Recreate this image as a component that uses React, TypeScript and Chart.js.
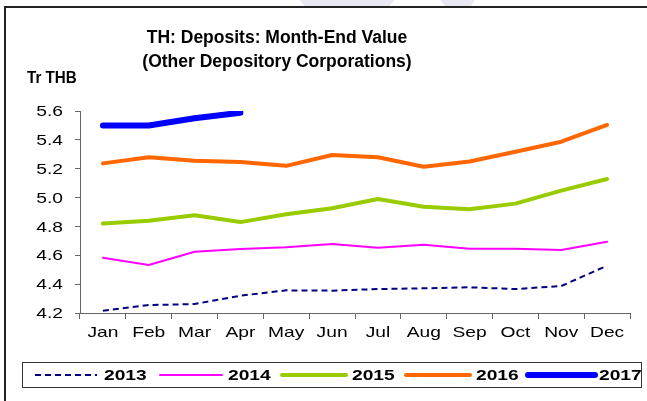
import React, { useEffect, useRef } from "react";
import { Chart, registerables } from "chart.js";

Chart.register(...registerables);

const months = ["Jan", "Feb", "Mar", "Apr", "May", "Jun", "Jul", "Aug", "Sep", "Oct", "Nov", "Dec"];
const s2013 = [4.216, 4.255, 4.262, 4.32, 4.357, 4.355, 4.366, 4.371, 4.378, 4.366, 4.387, 4.528];
const s2014 = [4.583, 4.533, 4.625, 4.643, 4.655, 4.678, 4.653, 4.673, 4.646, 4.646, 4.637, 4.694];
const s2015 = [4.82, 4.84, 4.877, 4.83, 4.884, 4.926, 4.99, 4.937, 4.919, 4.958, 5.048, 5.129];
const s2016 = [5.237, 5.28, 5.256, 5.246, 5.22, 5.295, 5.28, 5.214, 5.25, 5.318, 5.387, 5.503];
const s2017 = [5.5, 5.5, 5.55, 5.588];
const yearLabels = ["2013", "2014", "2015", "2016", "2017"];
const titleLines = ["TH: Deposits: Month-End Value", "(Other Depository Corporations)"];
const unitLabel = "Tr THB";

const FONT = "'Liberation Sans', Arial, sans-serif";
const STRETCH = 1.28;

const styles = [
  { color: "#000080", width: 2, dash: [6, 4] },
  { color: "#ff00ff", width: 2, dash: [] },
  { color: "#99cc00", width: 4, dash: [] },
  { color: "#ff6600", width: 4, dash: [] },
  { color: "#0000ff", width: 6, dash: [] },
];

function stretchedText(ctx: CanvasRenderingContext2D, text: string, x: number, y: number, align: "left" | "right" | "center", sx: number = STRETCH) {
  ctx.save();
  ctx.translate(x, y);
  ctx.scale(sx, 1);
  ctx.textAlign = align;
  ctx.textBaseline = "middle";
  ctx.fillText(text, 0, 0);
  ctx.restore();
}

const decorPlugin = {
  id: "decor",
  beforeDraw(chart: any) {
    const ctx = chart.ctx;
    ctx.save();
    ctx.fillStyle = "#ffffff";
    ctx.fillRect(0, 0, chart.width, chart.height);
    ctx.fillStyle = "#e8e8f3";
    ctx.beginPath();
    ctx.moveTo(300, 0);
    ctx.lineTo(395, 0);
    ctx.lineTo(388, 7);
    ctx.lineTo(305, 7);
    ctx.closePath();
    ctx.fill();
    ctx.beginPath();
    ctx.moveTo(440, 0);
    ctx.lineTo(475, 0);
    ctx.lineTo(470, 7);
    ctx.lineTo(446, 7);
    ctx.closePath();
    ctx.fill();
    ctx.strokeStyle = "#222222";
    ctx.lineWidth = 2;
    ctx.beginPath();
    ctx.moveTo(5, 401);
    ctx.lineTo(5, 7);
    ctx.lineTo(647, 7);
    ctx.stroke();
    ctx.restore();
  },
  afterDraw(chart: any) {
    const ctx = chart.ctx;
    ctx.save();
    ctx.fillStyle = "#000000";
    ctx.textAlign = "center";
    ctx.textBaseline = "middle";
    ctx.font = `bold 17.5px ${FONT}`;
    ctx.fillText(titleLines[0], 277, 38);
    ctx.fillText(titleLines[1], 277, 62);
    ctx.font = `bold 16.5px ${FONT}`;
    stretchedText(ctx, unitLabel, 27, 78, "left", 0.92);

    // axis tick labels, positioned by the chart's scales
    ctx.font = `15px ${FONT}`;
    ctx.fillStyle = "#000000";
    const ys = chart.scales.y;
    ys.ticks.forEach((t: any) => {
      const py = ys.getPixelForValue(t.value);
      stretchedText(ctx, Number(t.value).toFixed(1), 63, py + 1, "right");
    });
    const xs = chart.scales.x;
    xs.ticks.forEach((t: any, i: number) => {
      const px = xs.getPixelForTick(i);
      stretchedText(ctx, String(chart.data.labels[t.value ?? i]), px, xs.top + 20, "center");
    });

    // legend
    ctx.strokeStyle = "#333333";
    ctx.lineWidth = 1;
    ctx.strokeRect(22.5, 362.5, 619, 25);
    const lineStarts = [35, 160, 282, 406, 528];
    const lineEnds = [97, 222, 346, 470, 595];
    const textX = [104, 228, 352, 476, 599];
    const yMid = 375;
    yearLabels.forEach((lab, i) => {
      const st = styles[i];
      ctx.strokeStyle = st.color;
      ctx.lineWidth = st.width;
      ctx.lineCap = st.dash.length ? "butt" : "round";
      ctx.setLineDash(st.dash);
      ctx.beginPath();
      ctx.moveTo(lineStarts[i], yMid);
      ctx.lineTo(lineEnds[i], yMid);
      ctx.stroke();
      ctx.setLineDash([]);
      ctx.fillStyle = "#000000";
      ctx.font = `bold 15px ${FONT}`;
      stretchedText(ctx, lab, textX[i], yMid + 1, "left");
    });
    ctx.restore();
  },
};

export default function App() {
  const ref = useRef<HTMLCanvasElement | null>(null);
  useEffect(() => {
    document.body.style.margin = "0";
    const series = [s2013, s2014, s2015, s2016, s2017];
    const chart = new Chart(ref.current!, {
      type: "line",
      data: {
        labels: months,
        datasets: series.map((d, i) => ({
          label: yearLabels[i],
          data: d,
          borderColor: styles[i].color,
          backgroundColor: styles[i].color,
          borderWidth: styles[i].width,
          borderDash: styles[i].dash,
          borderCapStyle: styles[i].dash.length ? "butt" : "round",
          borderJoinStyle: "round",
          pointRadius: 0,
          tension: 0,
          fill: false,
        })),
      },
      options: {
        animation: false,
        responsive: false,
        maintainAspectRatio: false,
        layout: { padding: { left: 0, right: 17, top: 111, bottom: 58 } },
        plugins: {
          legend: { display: false },
          title: { display: false },
          tooltip: { enabled: false },
        },
        scales: {
          x: {
            offset: true,
            grid: {
              offset: true,
              drawOnChartArea: false,
              drawTicks: true,
              tickLength: 6,
              color: "#666666",
            },
            border: { display: true, color: "#666666", width: 1 },
            ticks: {
              display: false,
              maxRotation: 0,
              autoSkip: false,
            },
            afterFit(scale: any) {
              scale.height = 30;
            },
          },
          y: {
            min: 4.2,
            max: 5.6,
            grid: {
              drawOnChartArea: false,
              drawTicks: true,
              tickLength: 5,
              color: "#666666",
            },
            border: { display: true, color: "#666666", width: 1 },
            ticks: {
              display: false,
              stepSize: 0.2,
            },
            afterFit(scale: any) {
              scale.width = 80;
            },
          },
        },
      },
      plugins: [decorPlugin],
    });
    return () => chart.destroy();
  }, []);
  return (
    <div style={{ position: "absolute", left: 0, top: 0, width: 647, height: 401 }}>
      <canvas ref={ref} width={647} height={401} style={{ width: 647, height: 401, display: "block" }} />
    </div>
  );
}
